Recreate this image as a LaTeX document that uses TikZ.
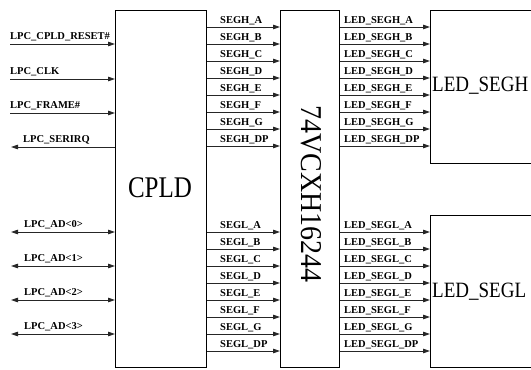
\documentclass[tikz,border=0pt]{standalone}
\usepackage{fontspec}
\setmainfont{Liberation Serif}
\usetikzlibrary{arrows.meta}
\begin{document}
\begin{tikzpicture}[x=1pt,y=-1pt,
  tip/.tip={Triangle[length=7pt,width=4.5pt]},
  box/.style={draw,line width=0.8pt,inner sep=0pt,anchor=north west},
  sig/.style={line width=0.8pt,draw=black!85,-tip},
  sigl/.style={line width=0.8pt,draw=black!85,tip-},
  sigb/.style={line width=0.8pt,draw=black!85,tip-tip},
  lbl/.style={font=\bfseries\fontsize{10.5}{12}\selectfont,inner sep=0pt,anchor=base west},
  big/.style={font=\fontsize{#1}{#1}\selectfont,inner sep=0pt}]
\useasboundingbox (0,0) rectangle (531,370);
\begin{scope}
\clip (0,0) rectangle (531,370);
\node[box,minimum width=91pt,minimum height=357pt] (cpld) at (115,10) {};
\node[box,minimum width=59pt,minimum height=357pt] (buf) at (280,10) {};
\node[box,minimum width=120pt,minimum height=153pt] (ledh) at (430,10) {};
\node[box,minimum width=120pt,minimum height=152pt] (ledl) at (430,215) {};
\end{scope}
\node[big=25] (cpldt) at (160,188) {\scalebox{1}[1.2]{CPLD}};
\node[big=28,rotate=-90] (buft) at (311,194) {\scalebox{1}[1.08]{74VCXH16244}};
\node[big=19,anchor=west] (ledht) at (432,86) {\scalebox{1}[1.15]{LED\_SEGH}};
\node[big=19,anchor=west] (ledlt) at (432,292) {\scalebox{1}[1.15]{LED\_SEGL}};
% left inputs
\foreach \y/\t/\n [count=\i] in {44/LPC\_CPLD\_RESET\#/a,79/LPC\_CLK/b,113/LPC\_FRAME\#/c}{
  \coordinate (in\n) at (10,\y);
  \draw[sig] (in\n) -- (cpld.west |- in\n);
  \node[lbl] (lin\n) at (10,\y-5) {\t};
}
\coordinate (irq) at (11,147);
\draw[sigl] (irq) -- (cpld.west |- irq);
\node[lbl] (lirq) at (23,142) {LPC\_SERIRQ};
\foreach \y/\k in {232/0,266/1,300/2,334/3}{
  \coordinate (ad\k) at (11,\y);
  \draw[sigb] (ad\k) -- (cpld.west |- ad\k);
  \node[lbl] (lad\k) at (24,\y-5) {LPC\_AD<\k>};
}
% segments
\foreach \s [count=\i from 0] in {A,B,C,D,E,F,G,DP}{
  \coordinate (h\i) at (0,27+17*\i);
  \draw[sig] (cpld.east |- h\i) -- (buf.west |- h\i);
  \node[lbl] (sh\i) at (220,23+17*\i) {SEGH\_\s};
  \draw[sig] (buf.east |- h\i) -- (ledh.west |- h\i);
  \node[lbl] (lh\i) at (344,23+17*\i) {LED\_SEGH\_\s};
  \coordinate (l\i) at (0,232+17*\i);
  \draw[sig] (cpld.east |- l\i) -- (buf.west |- l\i);
  \node[lbl] (sl\i) at (220,228+17*\i) {SEGL\_\s};
  \draw[sig] (buf.east |- l\i) -- (ledl.west |- l\i);
  \node[lbl] (ll\i) at (344,228+17*\i) {LED\_SEGL\_\s};
}
\end{tikzpicture}
\end{document}
